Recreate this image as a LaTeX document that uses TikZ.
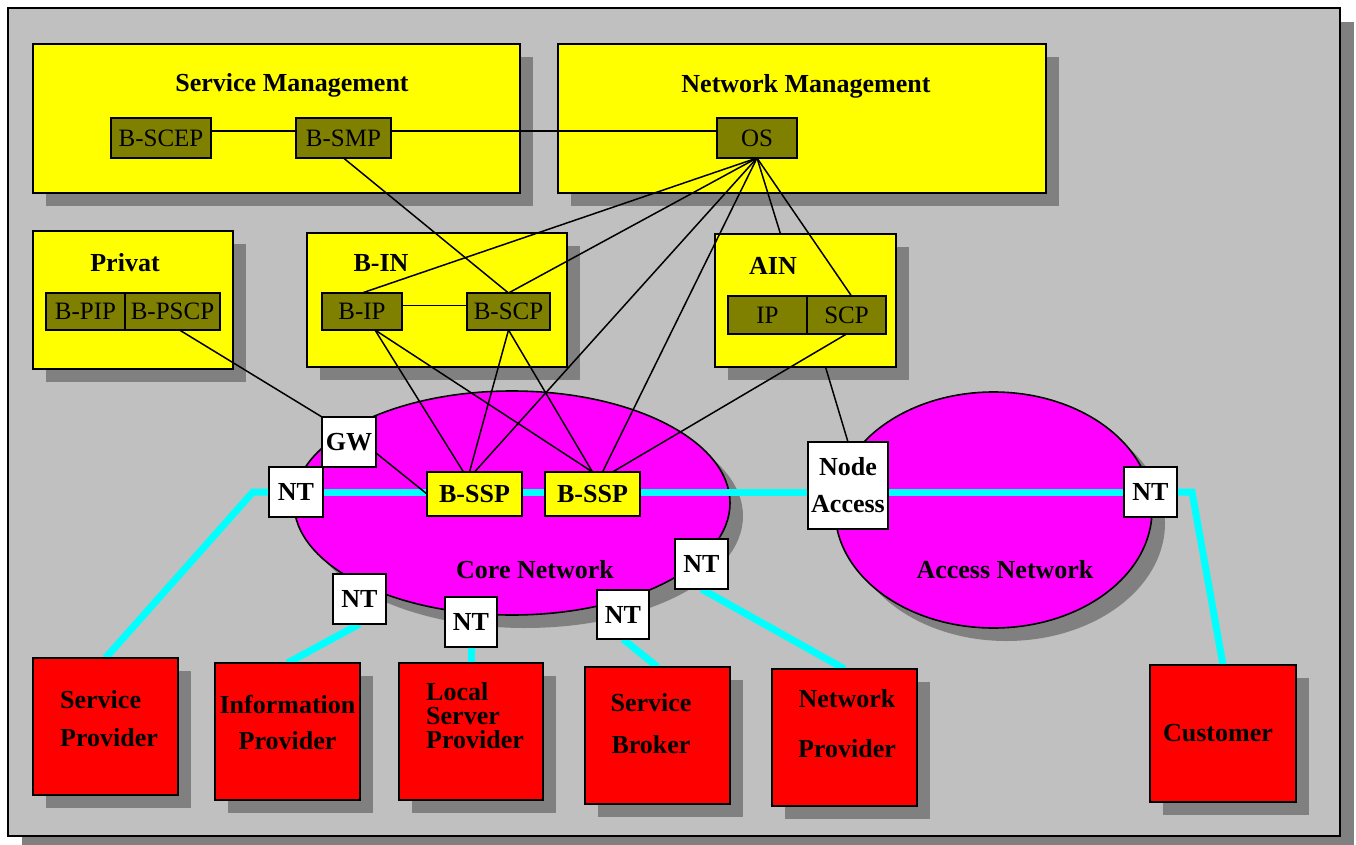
\documentclass[tikz,border=0pt]{standalone}
\usepackage{fontspec}
\setmainfont{Liberation Serif}
\usetikzlibrary{shapes.geometric,shadows}
\definecolor{canvasgray}{HTML}{C0C0C0}
\definecolor{shadegray}{HTML}{808080}
\definecolor{unitolive}{HTML}{808000}
\definecolor{pipecyan}{HTML}{00FFFF}
\definecolor{netmagenta}{HTML}{FF00FF}
\definecolor{partyred}{HTML}{FF0000}
\definecolor{panelyellow}{HTML}{FFFF00}
\pgfdeclarelayer{base}
\pgfdeclarelayer{wires}
\pgfsetlayers{base,wires,main}
\tikzset{
  sh13/.style={drop shadow={shadow xshift=13pt,shadow yshift=-13pt,fill=shadegray,opacity=1}},
  sz/.style 2 args={minimum width=#1pt,minimum height=#2pt},
  panel/.style={draw,line width=1.6pt,fill=panelyellow,sh13,anchor=north west,inner sep=0pt,outer sep=0pt},
  unitbox/.style={draw,line width=1.6pt,fill=unitolive,anchor=north west,inner sep=0pt,outer sep=0pt,
    font=\fontsize{25}{30}\selectfont},
  ntbox/.style={draw,line width=1.6pt,fill=white,anchor=north west,inner sep=0pt,outer sep=0pt,
    font=\bfseries\fontsize{26}{30}\selectfont},
  sspbox/.style={ntbox,fill=panelyellow},
  party/.style={draw,line width=1.6pt,fill=partyred,sh13,anchor=north west,inner sep=0pt,outer sep=0pt},
  netcloud/.style={ellipse,draw,line width=1.6pt,fill=netmagenta,inner sep=0pt,sh13},
  heading/.style={font=\bfseries\fontsize{26}{30}\selectfont,anchor=base,inner sep=0pt},
  ptext/.style={font=\bfseries\fontsize{26}{#1}\selectfont,inner sep=0pt},
  link/.style={line width=1.5pt,black},
  pipe/.style={pipecyan,line width=7pt},
}
\begin{document}
\begin{tikzpicture}[x=1pt,y=-1pt]
\useasboundingbox (0,0) rectangle (1356,845);

% backdrop, management panels and network clouds
\begin{pgfonlayer}{base}
\node[draw,line width=1.6pt,fill=canvasgray,anchor=north west,inner sep=0pt,sz={1332}{828},
  drop shadow={shadow xshift=14pt,shadow yshift=-14pt,fill=shadegray,opacity=1}] (frame) at (7,7) {};
\node[panel,sz={487}{149}] (sm) at (33,44) {};
\node[panel,sz={488}{149}] (nm) at (558,44) {};
\node[panel,sz={200}{138}] (pr) at (33,231) {};
\node[panel,sz={260}{134}] (bin) at (307,233) {};
\node[panel,sz={181}{133}] (ain) at (715,234) {};
\node[netcloud,sz={436}{224}] (core) at (512,503) {};
\node[netcloud,sz={317}{236}] (access) at (993.5,510) {};
\end{pgfonlayer}

% panel and cloud headings
\node[heading] (smT) at (292,92) {Service Management};
\node[heading] (nmT) at (806,93) {Network Management};
\node[heading] (prT) at (125,271) {Privat};
\node[heading] (binT) at (381,271) {B-IN};
\node[heading] (ainT) at (773,274) {AIN};
\node[heading] (coreT) at (535,578) {Core Network};
\node[heading] (accessT) at (1005,578) {Access Network};

% functional units
\node[unitbox,sz={100}{40}] (bscep) at (111,118) {B-SCEP};
\node[unitbox,sz={95}{40}] (bsmp) at (296,118) {B-SMP};
\node[unitbox,sz={80}{40}] (os) at (717,118) {OS};
\node[unitbox,sz={79}{37}] (bpip) at (46,293) {B-PIP};
\node[unitbox,sz={95}{37}] (bpscp) at (125,293) {B-PSCP};
\node[unitbox,sz={80}{37}] (bip) at (322,293) {B-IP};
\node[unitbox,sz={83}{37}] (bscp) at (467,293) {B-SCP};
\node[unitbox,sz={79}{38}] (ip) at (728,296) {IP};
\node[unitbox,sz={79}{38}] (scp) at (807,296) {SCP};

% switching points, gateway and terminations
\node[ntbox,sz={54}{50}] (gw) at (322,417) {GW};
\node[ntbox,sz={54}{50}] (ntL) at (269,467) {NT};
\node[sspbox,sz={95}{44}] (bssp1) at (427,472) {B-SSP};
\node[sspbox,sz={95}{44}] (bssp2) at (545,472) {B-SSP};
\node[ntbox,sz={80}{87},align=center,font=\bfseries\fontsize{26}{37}\selectfont] (na) at (808,442) {Node\\Access};
\node[ntbox,sz={53}{50}] (ntR) at (1124,467) {NT};
\node[ntbox,sz={53}{50}] (nt1) at (333,574) {NT};
\node[ntbox,sz={52}{50}] (nt2) at (445,597) {NT};
\node[ntbox,sz={52}{49}] (nt3) at (597,590) {NT};
\node[ntbox,sz={53}{50}] (nt4) at (675,539) {NT};

% market parties
\node[party,sz={145}{137}] (sp) at (33,658) {};
\node[party,sz={145}{137}] (ipv) at (215,663) {};
\node[party,sz={144}{137}] (lsp) at (399,663) {};
\node[party,sz={145}{137}] (sb) at (585,667) {};
\node[party,sz={145}{137}] (np) at (772,669) {};
\node[party,sz={146}{137}] (cu) at (1150,665) {};
\node[ptext={38},align=left,anchor=west] (spT) at (60,718.5) {Service\\Provider};
\node[ptext={36},align=center] (ipvT) at (287.5,722) {Information\\Provider};
\node[ptext={24},align=left,anchor=west] (lspT) at (426,716) {Local\\Server\\Provider};
\node[ptext={42},align=center] (sbT) at (651,723.5) {Service\\Broker};
\node[ptext={50},align=center] (npT) at (847,723.5) {Network\\Provider};
\node[heading] (cuT) at (1218,741) {Customer};

% bend points of the transport line
\coordinate (cA) at (253,492);
\coordinate (cB) at (1192,492);

\begin{pgfonlayer}{wires}
% broadband transport
\draw[pipe] (sp.north) -- (cA) -- (ntL.west);
\draw[pipe] (ntL.east) -- (ntL.east -| ntR.west);
\draw[pipe] (ntR.east) -- (cB) -- (cu.north);
\draw[pipe] (ipv.north) -- (nt1.south);
\draw[pipe] (nt2.south) -- (lsp.north);
\draw[pipe] (nt3.south) -- (sb.north);
\draw[pipe] (nt4.south) -- (np.north);
% signalling and management links
\draw[link] ([yshift=7pt]bscep.east) -- ([yshift=7pt]bsmp.west);
\draw[link] ([yshift=7pt]bsmp.east) -- ([yshift=7pt]os.west);
\draw[link] (bsmp.south) -- (bscp.north);
\draw[link] (os.south) -- (bip.north);
\draw[link] (os.south) -- (bscp.north);
\draw[link] (os.south) -- (bssp1.north);
\draw[link] (os.south) -- ([xshift=10pt]bssp2.north);
\draw[link] (os.south) -- ([xshift=-25pt]ain.north);
\draw[link] (os.south) -- ([xshift=5pt]scp.north);
\draw[link] ([yshift=6pt]bip.east) -- ([yshift=6pt]bscp.west);
\draw[link] ([xshift=13pt]bip.south) -- ([xshift=-11pt]bssp1.north);
\draw[link] ([xshift=13pt]bip.south) -- (bssp2.north);
\draw[link] (bscp.south) -- ([xshift=-5pt]bssp1.north);
\draw[link] (bscp.south) -- (bssp2.north);
\draw[link] (scp.south) -- ([xshift=20pt]bssp2.north);
\draw[link] ([xshift=20pt]ain.south) -- (na.north);
\draw[link] ([xshift=7pt]bpscp.south) -- (gw.north west);
\draw[link] ([yshift=-11pt]gw.east) -- (bssp1.west);
\end{pgfonlayer}
\end{tikzpicture}
\end{document}
